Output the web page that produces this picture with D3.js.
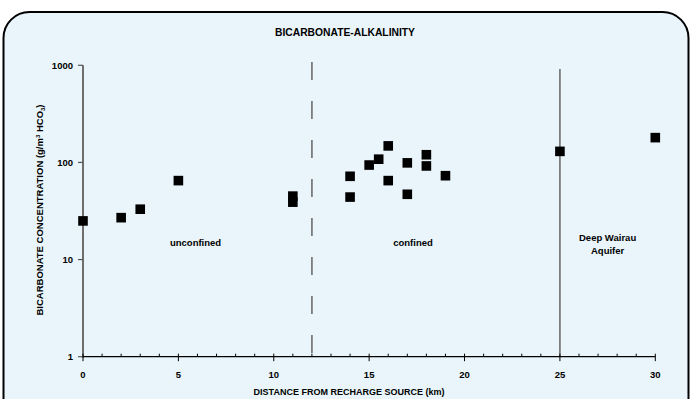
<!DOCTYPE html>
<html>
<head>
<meta charset="utf-8">
<script src="https://cdn.jsdelivr.net/npm/d3@7"></script>
<style>
  html, body { margin: 0; padding: 0; background: #ffffff; }
  svg { display: block; }
  text { font-family: "Liberation Sans", Arial, sans-serif; font-weight: bold; fill: #000; }
</style>
</head>
<body>
<svg id="chart" width="690" height="399"></svg>
<script>
// Bicarbonate samples: distance from recharge source (km) and concentration (g/m3 HCO3)
const distanceKm = [0, 2, 3, 5, 11, 11, 14, 14, 15, 15.5, 16, 16, 17, 17, 18, 18, 19, 25, 30];
const bicarbonate = [25, 27, 33, 65, 45, 39, 72, 44, 94, 108, 148, 65, 99, 47, 120, 92, 73, 130, 180];

const xTicks = [0, 5, 10, 15, 20, 25, 30];
const xMinorTicks = d3.range(0, 31, 1);
const yTicks = [1, 10, 100, 1000];

// Aquifer zone boundaries and their labels
const boundaryKm = [12, 25];
const zoneLabels = [
  { km: 5.9, lines: ["unconfined"] },
  { km: 17.3, lines: ["confined"] },
  { km: 27.5, lines: ["Deep Wairau", "Aquifer"] }
];

const svg = d3.select("#chart");

// Rounded background panel
svg.append("rect")
  .attr("x", 3.5).attr("y", 12)
  .attr("width", 685).attr("height", 420)
  .attr("rx", 26).attr("ry", 26)
  .attr("fill", "#e9f5fa")
  .attr("stroke", "#000").attr("stroke-width", 2);

const x = d3.scaleLinear().domain([0, 30]).range([83, 655.3]);
const y = d3.scaleLog().domain([1, 1000]).range([356.7, 65.3]);

// Title
svg.append("text")
  .attr("x", 345).attr("y", 36)
  .attr("text-anchor", "middle")
  .attr("font-size", 10.3)
  .text("BICARBONATE-ALKALINITY");

// Zone boundaries: dashed at the confining layer, solid at the deep aquifer
svg.append("line")
  .attr("x1", x(boundaryKm[0])).attr("x2", x(boundaryKm[0]))
  .attr("y1", 62).attr("y2", 357)
  .attr("stroke", "#6e6e6e").attr("stroke-width", 1.6)
  .attr("stroke-dasharray", "18,21");
svg.append("line")
  .attr("x1", x(boundaryKm[1])).attr("x2", x(boundaryKm[1]))
  .attr("y1", 69).attr("y2", 357)
  .attr("stroke", "#6e6e6e").attr("stroke-width", 1.6);

// Y axis (log)
const yAxis = svg.append("g").attr("transform", `translate(${x(0)},0)`);
yAxis.append("line")
  .attr("x1", 0).attr("x2", 0)
  .attr("y1", y(1000)).attr("y2", y(1) + 1)
  .attr("stroke", "#6e6e6e").attr("stroke-width", 2);
yAxis.selectAll(".ytick").data(yTicks).join("line")
  .attr("x1", -5).attr("x2", 0)
  .attr("y1", d => y(d)).attr("y2", d => y(d))
  .attr("stroke", "#555").attr("stroke-width", 1.2);
yAxis.selectAll(".ylab").data(yTicks).join("text")
  .attr("x", -10).attr("y", d => y(d))
  .attr("dy", "0.35em")
  .attr("text-anchor", "end")
  .attr("font-size", 9.5)
  .text(d => d);

// X axis
const xAxis = svg.append("g").attr("transform", `translate(0,${y(1)})`);
xAxis.append("line")
  .attr("x1", x(0)).attr("x2", x(30))
  .attr("y1", 0).attr("y2", 0)
  .attr("stroke", "#000").attr("stroke-width", 1.2);
xAxis.selectAll(".xminor").data(xMinorTicks.filter(d => d % 5 !== 0)).join("line")
  .attr("x1", d => x(d)).attr("x2", d => x(d))
  .attr("y1", -3).attr("y2", 0)
  .attr("stroke", "#000").attr("stroke-width", 1);
xAxis.selectAll(".xmajor").data(xTicks).join("line")
  .attr("x1", d => x(d)).attr("x2", d => x(d))
  .attr("y1", -3).attr("y2", 4.5)
  .attr("stroke", "#000").attr("stroke-width", 1);
xAxis.selectAll(".xlab").data(xTicks).join("text")
  .attr("x", d => x(d)).attr("y", 21)
  .attr("text-anchor", "middle")
  .attr("font-size", 9.5)
  .text(d => d);

// Axis titles
svg.append("text")
  .attr("x", 349).attr("y", 395)
  .attr("text-anchor", "middle")
  .attr("font-size", 9)
  .text("DISTANCE FROM RECHARGE SOURCE (km)");

const yTitle = svg.append("text")
  .attr("transform", "translate(43,210) rotate(-90)")
  .attr("text-anchor", "middle")
  .attr("font-size", 9.5);
yTitle.append("tspan").text("BICARBONATE CONCENTRATION (g/m");
yTitle.append("tspan").attr("font-size", 6).attr("dy", -3.5).text("3");
yTitle.append("tspan").attr("dy", 3.5).text(" HCO");
yTitle.append("tspan").attr("font-size", 6).attr("dy", 2).text("3");
yTitle.append("tspan").attr("dy", -2).text(")");

// Zone labels
zoneLabels.forEach(z => {
  const t = svg.append("text")
    .attr("x", x(z.km))
    .attr("y", z.lines.length > 1 ? 241 : 246)
    .attr("text-anchor", "middle")
    .attr("font-size", 9.5);
  z.lines.forEach((line, i) => {
    t.append("tspan").attr("x", x(z.km)).attr("dy", i === 0 ? 0 : 13).text(line);
  });
});

// Data markers
const size = 9.6;
svg.selectAll(".pt").data(distanceKm.map((d, i) => [d, bicarbonate[i]])).join("rect")
  .attr("x", d => x(d[0]) - size / 2)
  .attr("y", d => y(d[1]) - size / 2)
  .attr("width", size).attr("height", size)
  .attr("fill", "#000");
</script>
</body>
</html>
